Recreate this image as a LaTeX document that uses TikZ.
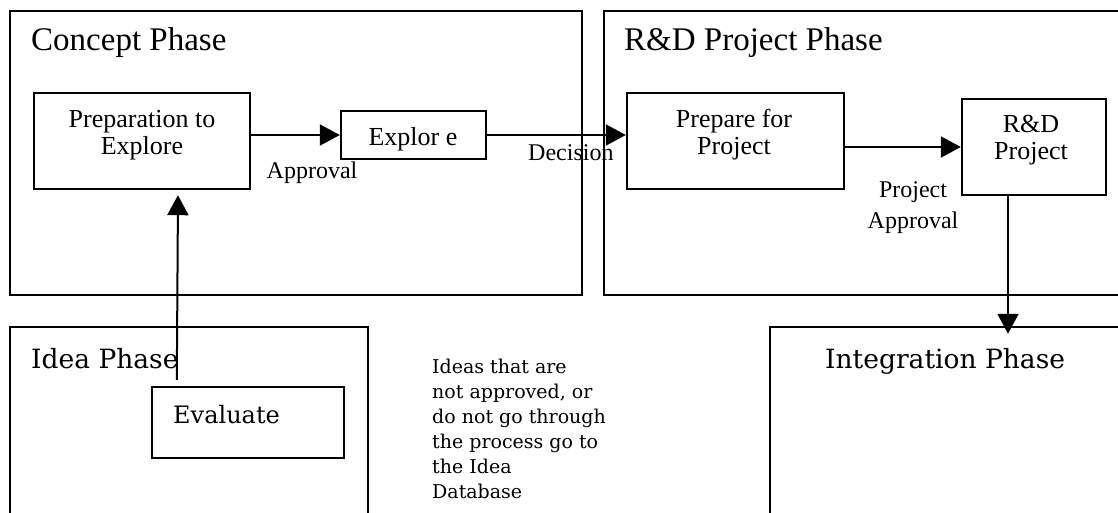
\documentclass[tikz,border=0pt]{standalone}
\usepackage{fontspec}
\setmainfont{Liberation Serif}
\newfontfamily\ideafont{DejaVu Serif}
\usetikzlibrary{arrows.meta}

\begin{document}
\begin{tikzpicture}[x=1pt,y=-1pt,
  >={Triangle[length=20pt,width=21pt]},
  phase/.style={draw,line width=2.5pt,inner sep=0pt},
  box/.style={draw,line width=2.4pt,inner sep=0pt},
  flow/.style={line width=2pt,->},
  title/.style={anchor=base west,inner sep=0pt,font=\fontsize{33}{36}\selectfont},
  ititle/.style={anchor=base west,inner sep=0pt,font=\ideafont\fontsize{26.5}{30}\selectfont},
  btext/.style={align=center,inner sep=0pt,font=\fontsize{26}{27}\selectfont},
  small/.style={align=center,inner sep=0pt,font=\fontsize{24}{31}\selectfont}]
\useasboundingbox (0,0) rectangle (1118,512);

\node[phase,minimum width=572,minimum height=284] (concept) at (296,153) {};
\node[phase,minimum width=526,minimum height=284] (rndphase) at (867,153) {};
\node[phase,minimum width=358,minimum height=203] (idea) at (189,428.5) {};
\node[phase,minimum width=360,minimum height=203] (integ) at (950,428.5) {};

\node[title] (concepttitle) at (31,50) {Concept Phase};
\node[title] (rndtitle) at (624,50) {R\&D Project Phase};
\node[ititle] (ideatitle) at (31,368) {Idea Phase};
\node[ititle] (integtitle) at (825,368) {Integration Phase};

\node[box,minimum width=216,minimum height=96] (prep) at (142,141) {};
\node[box,minimum width=145,minimum height=48] (explore) at (413.5,135) {};
\node[box,minimum width=217,minimum height=96] (prepproj) at (735.5,141) {};
\node[box,minimum width=144,minimum height=96] (rnd) at (1034,147) {};
\node[box,minimum width=192,minimum height=71] (eval) at (248,422.5) {};

\node[btext] (preptext) at (142,135) {Preparation to\\Explore};
\node[btext] (exploretext) at (413,139) {Explor e};
\node[btext] (prepprojtext) at (734,135) {Prepare for\\Project};
\node[btext] (rndtext) at (1031,140) {R\&D\\Project};
\node[anchor=base west,inner sep=0pt,font=\ideafont\fontsize{24}{28}\selectfont] (evaltext) at (173,423) {Evaluate};

\draw[flow] (explore.west -| prep.east) -- (explore.west);
\draw[flow] (explore.east) -- (explore.east -| prepproj.west);
\draw[flow] (rnd.west -| prepproj.east) -- (rnd.west);
\draw[flow] ([xshift=26pt,yshift=6pt]eval.north west) -- ([xshift=36pt,yshift=-5pt]prep.south);
\coordinate (drop) at ([xshift=-26pt,yshift=2pt]rnd.south);
\draw[flow,shorten >=-8pt] (drop) -- (drop |- integ.north);

\node[small,anchor=base] (approval) at (312,178) {Approval};
\node[small,anchor=base west] (decision) at (528,160) {Decision};
\node[small] (projapproval) at (913,208) {Project\\Approval};
\node[anchor=north west,align=left,inner sep=0pt,font=\ideafont\fontsize{19}{25}\selectfont] (note) at (432,359)
  {Ideas that are\\not approved, or\\do not go through\\the process go to\\the Idea\\Database};

\end{tikzpicture}
\end{document}
